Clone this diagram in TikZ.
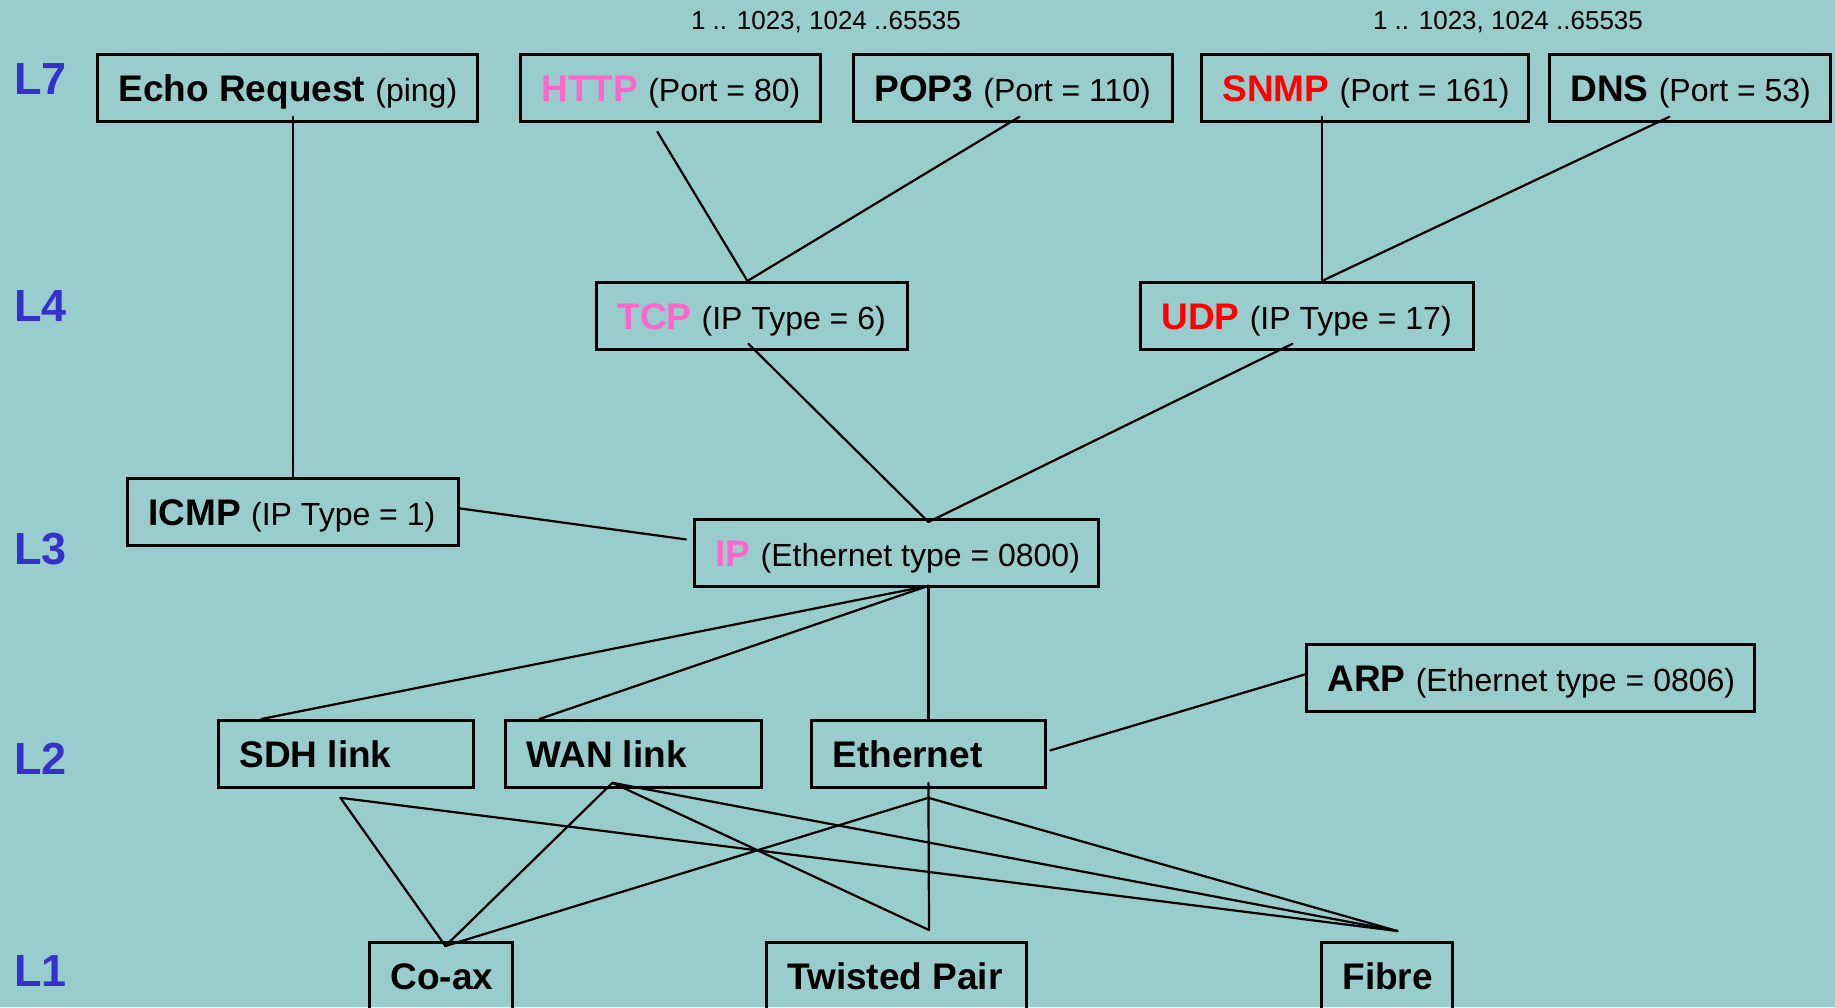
\documentclass[tikz,border=0pt]{standalone}
\usepackage{fontspec}
\setmainfont{Liberation Sans}
\usetikzlibrary{calc}
\definecolor{bg}{HTML}{99CCCC}
\definecolor{pinkp}{HTML}{FF66CC}
\definecolor{redp}{HTML}{FF0000}
\definecolor{layerblue}{HTML}{3333CC}
\newcommand\rg[1]{{\fontsize{32}{36}\selectfont\mdseries #1}}
\begin{document}
\begin{tikzpicture}[x=1pt,y=-1pt,
  box/.style={draw=black, line width=2.8pt, anchor=north west, inner xsep=21pt, inner ysep=0pt,
    text height=47pt, text depth=20pt, font=\fontsize{37}{40}\selectfont\bfseries},
  tallbox/.style={box, text depth=140pt},
  lay/.style={anchor=base west, inner sep=0pt, text=layerblue, font=\fontsize{45}{50}\selectfont\bfseries},
  port/.style={anchor=base, inner sep=0pt, font=\fontsize{26}{30}\selectfont},
  conn/.style={line width=2.2pt, line cap=round}]
\useasboundingbox (0,0) rectangle (1835,1007);
\clip (0,0) rectangle (1835,1007);
\fill[bg] (0,0) rectangle (1835,1007);

% layer labels
\node[lay] (l7) at (14,94) {L7};
\node[lay] (l4) at (14,321) {L4};
\node[lay] (l3) at (14,564) {L3};
\node[lay] (l2) at (14,774) {L2};
\node[lay] (l1) at (14,986) {L1};

% port ranges
\node[port] (pr1) at (826,29) {1 .. 1023, 1024 ..65535};
\node[port] (pr2) at (1508,29) {1 .. 1023, 1024 ..65535};

% L7
\node[box] (echo) at (96,53) {\makebox[338pt][l]{Echo Request \rg{(ping)}}};
\node[box] (http) at (519,53) {\makebox[258pt][l]{\textcolor{pinkp}{HTTP} \rg{(Port = 80)}}};
\node[box] (pop3) at (852,53) {\makebox[277pt][l]{POP3 \rg{(Port = 110)}}};
\node[box] (snmp) at (1200,53) {\makebox[285pt][l]{\textcolor{redp}{SNMP} \rg{(Port = 161)}}};
\node[box] (dns) at (1548,53) {\makebox[239pt][l]{DNS \rg{(Port = 53)}}};
% L4
\node[box] (tcp) at (595,281) {\makebox[269pt][l]{\textcolor{pinkp}{TCP} \rg{(IP Type = 6)}}};
\node[box] (udp) at (1139,281) {\makebox[291pt][l]{\textcolor{redp}{UDP} \rg{(IP Type = 17)}}};
% L3
\node[box] (icmp) at (126,477) {\makebox[289pt][l]{ICMP \rg{(IP Type = 1)}}};
\node[box] (ip) at (693,518) {\makebox[362pt][l]{\textcolor{pinkp}{IP} \rg{(Ethernet type = 0800)}}};
% L2
\node[box] (arp) at (1305,643) {\makebox[406pt][l]{ARP \rg{(Ethernet type = 0806)}}};
\node[box] (sdh) at (217,719) {\makebox[213pt][l]{SDH link}};
\node[box] (wan) at (504,719) {\makebox[214pt][l]{WAN link}};
\node[box] (eth) at (810,719) {\makebox[192pt][l]{Ethernet}};
% L1
\node[tallbox] (coax) at (368,941) {\makebox[101pt][l]{Co-ax}};
\node[tallbox] (tp) at (765,941) {\makebox[218pt][l]{Twisted Pair}};
\node[tallbox] (fibre) at (1320,941) {\makebox[89pt][l]{Fibre}};

% connectors L7 -> L4 / L3
\draw[conn] (icmp.north) -- ($(icmp.north |- echo.south)+(0,-6)$);
\draw[conn] ($(http.south)+(-13,9)$) -- ($(tcp.north)+(-4.5,0)$);
\draw[conn] ($(pop3.south)+(6.5,-6)$) -- ($(tcp.north)+(-4.5,0)$);
\draw[conn] ($(snmp.south)+(-43,-6)$) -- ($(udp.north)+(15,0)$);
\draw[conn] ($(dns.south)+(-20.5,-6)$) -- ($(udp.north)+(15,0)$);
% L4 -> L3
\draw[conn] ($(tcp.south)+(-3.5,-7)$) -- ($(ip.north)+(32,4)$);
\draw[conn] ($(udp.south)+(-14.5,-7)$) -- ($(ip.north)+(32,4)$);
\draw[conn] ($(icmp.east)+(0,-3.5)$) -- ($(ip.west)+(-7,-13.5)$);
% L3 -> L2
\draw[conn] ($(ip.south)+(32,-2)$) -- ($(sdh.north)+(-84.5,0)$);
\draw[conn] ($(ip.south)+(32,-2)$) -- ($(wan.north)+(-94,0)$);
\draw[conn] ($(ip.south)+(32,-2)$) -- ($(eth.north)+(0,0)$);
\draw[conn] ($(eth.east)+(3.5,-3.5)$) -- ($(arp.west)+(0,-3.5)$);
% L2 -> L1
\draw[conn] ($(sdh.south)+(-5.5,9)$) -- ($(coax.north)+(4.5,5)$);
\draw[conn] ($(sdh.south)+(-5.5,9)$) -- ($(fibre.north)+(10.5,-10)$);
\draw[conn] ($(wan.south)+(-21,-6)$) -- ($(coax.north)+(4.5,5)$);
\draw[conn] ($(wan.south)+(-21,-6)$) -- ($(tp.north)+(32.6,-11)$);
\draw[conn] ($(wan.south)+(-21,-6)$) -- ($(fibre.north)+(10.5,-10)$);
\draw[conn] ($(eth.south)+(0,-6)$) -- ($(tp.north)+(32.6,-11)$);
\draw[conn] ($(eth.south)+(0,9)$) -- ($(coax.north)+(4.5,5)$);
\draw[conn] ($(eth.south)+(0,9)$) -- ($(fibre.north)+(10.5,-10)$);
\end{tikzpicture}
\end{document}
